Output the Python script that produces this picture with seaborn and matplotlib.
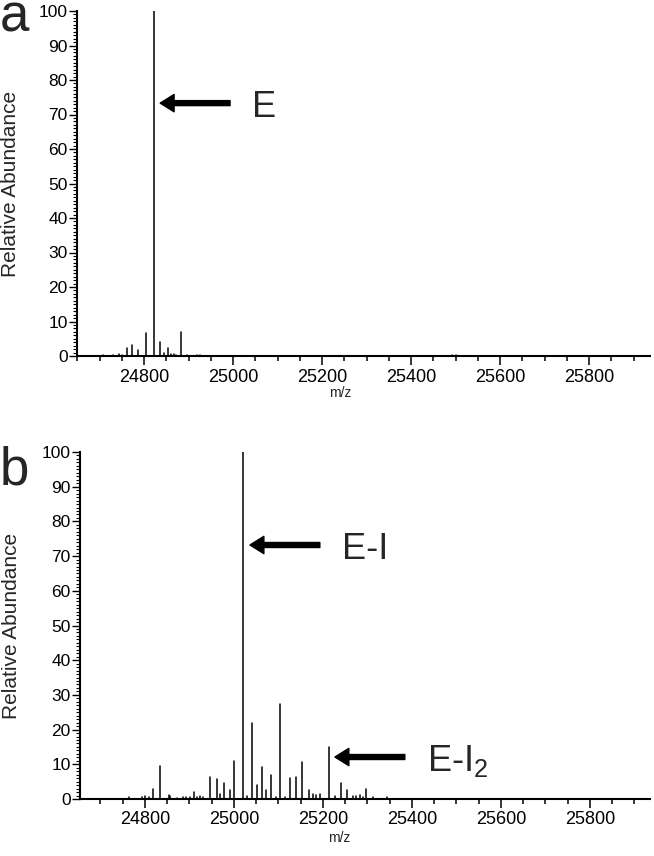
import numpy as np
import pandas as pd
import matplotlib
matplotlib.use("Agg")
import matplotlib.pyplot as plt
from matplotlib.ticker import MultipleLocator
import seaborn as sns

# ---------------- data ----------------
mz_a = [24707, 24730, 24744, 24750, 24762, 24773, 24787, 24803, 24821, 24835,
        24845, 24854, 24860, 24866, 24872, 24882, 24896, 24919, 24926, 25492, 25500]
ab_a = [0.3, 0.3, 0.7, 0.4, 2.3, 3.2, 1.6, 6.6, 100, 4.2,
        0.8, 2.3, 0.6, 0.5, 0.4, 7.0, 0.4, 0.3, 0.3, 0.3, 0.3]

mz_b = [24765, 24793, 24800, 24808, 24819, 24834, 24853, 24856, 24871, 24886,
        24893, 24901, 24910, 24916, 24923, 24930, 24946, 24961, 24969, 24977,
        24990, 25001, 25021, 25030, 25041, 25051, 25063, 25073, 25084, 25094,
        25104, 25115, 25125, 25139, 25154, 25169, 25178, 25185, 25193, 25213,
        25227, 25240, 25255, 25267, 25275, 25283, 25290, 25296, 25313, 25343]
ab_b = [0.6, 0.5, 0.8, 0.6, 3.0, 9.5, 1.2, 1.0, 0.3, 0.5,
        0.5, 0.5, 2.1, 0.6, 1.0, 0.6, 6.2, 5.8, 1.5, 4.5,
        2.6, 10.9, 100, 0.8, 22.0, 3.9, 9.1, 2.6, 6.8, 0.7,
        27.3, 0.6, 6.0, 6.4, 10.6, 2.6, 1.5, 1.2, 1.4, 15.1,
        0.8, 4.5, 2.6, 1.0, 0.8, 1.2, 0.7, 3.0, 0.5, 0.6]

panel_labels = ["a", "b"]
annot_a = ["E"]
annot_b = ["E-I", "E-I$_2$"]
x_ticks_major = 200
x_ticks_minor = 50
xlabel = "m/z"
ylabel = "Relative Abundance"


def sticks(mz, ab):
    rows = []
    for i, (m, a) in enumerate(zip(mz, ab)):
        rows.append((i, m, 0.0))
        rows.append((i, m, a))
    return pd.DataFrame(rows, columns=["pk", "mz", "ab"])


sns.set_style("ticks")
plt.rcParams["font.family"] = ["Liberation Sans", "DejaVu Sans"]
plt.rcParams["mathtext.fontset"] = "custom"
plt.rcParams["mathtext.rm"] = "Liberation Sans"
plt.rcParams["mathtext.it"] = "Liberation Sans:italic"
plt.rcParams["mathtext.default"] = "rm"

W, H = 654, 856
fig = plt.figure(figsize=(W / 100, H / 100), dpi=100)


def px_axes(l, t, r, b):
    return fig.add_axes([l / W, 1 - b / H, (r - l) / W, (b - t) / H])


ax1 = px_axes(77, 11, 650, 356)
ax2 = px_axes(80, 452, 650, 799)

for ax, mz, ab, xl in [(ax1, mz_a, ab_a, (24649, 25937)), (ax2, mz_b, ab_b, (24654, 25935))]:
    sns.lineplot(data=sticks(mz, ab), x="mz", y="ab", units="pk", estimator=None,
                 sort=False, color="black", lw=1.1, ax=ax, legend=False)
    ax.set_xlim(*xl)
    ax.set_ylim(0, 100)
    sns.despine(ax=ax)
    for s in ["left", "bottom"]:
        ax.spines[s].set_linewidth(1.5)
        ax.spines[s].set_color("black")
    ax.xaxis.set_major_locator(MultipleLocator(x_ticks_major))
    ax.xaxis.set_minor_locator(MultipleLocator(x_ticks_minor))
    ax.yaxis.set_major_locator(MultipleLocator(10))
    ax.yaxis.set_minor_locator(MultipleLocator(1))
    ax.tick_params(axis="x", which="major", length=6.5, width=1.1, labelsize=13,
                   colors="black", pad=2.5, direction="out")
    ax.tick_params(axis="x", which="minor", length=3.6, width=1.1, direction="out", colors="black")
    ax.tick_params(axis="y", which="major", length=5.8, width=1.0, labelsize=12.5,
                   colors="black", pad=1.0, direction="out")
    ax.tick_params(axis="y", which="minor", length=2.9, width=0.8, direction="out", colors="black")
    ax.set_xlabel(xlabel, fontsize=10)
    ax.set_ylabel(ylabel, fontsize=15)
    ax.set_facecolor("white")

ax1.yaxis.set_label_coords(-0.099, 0.5)
ax2.yaxis.set_label_coords(-0.104, 0.5)
ax1.xaxis.set_label_coords(0.459, -0.088)
ax2.xaxis.set_label_coords(0.455, -0.093)

arrow_kw = dict(facecolor="black", edgecolor="black", width=3.6, headwidth=12.5,
                headlength=10, shrink=0)

ax1.annotate("", xy=(24836, 73.3), xytext=(24993, 73.3), arrowprops=arrow_kw)
ax1.text(25043, 69.4, annot_a[0], fontsize=26, va="baseline", ha="left")

ax2.annotate("", xy=(25036, 73.2), xytext=(25193, 73.2), arrowprops=arrow_kw)
ax2.text(25243, 69.3, annot_b[0], fontsize=26, va="baseline", ha="left")

ax2.annotate("", xy=(25227, 12.1), xytext=(25384, 12.1), arrowprops=arrow_kw)
ax2.text(25434, 8.2, annot_b[1], fontsize=26, va="baseline", ha="left")

fig.text(0.0, 1 - 32 / H, panel_labels[0], fontsize=38, va="baseline", ha="left")
fig.text(0.0, 1 - 485 / H, panel_labels[1], fontsize=38, va="baseline", ha="left")

fig.savefig("out.png", dpi=100, facecolor="white")
